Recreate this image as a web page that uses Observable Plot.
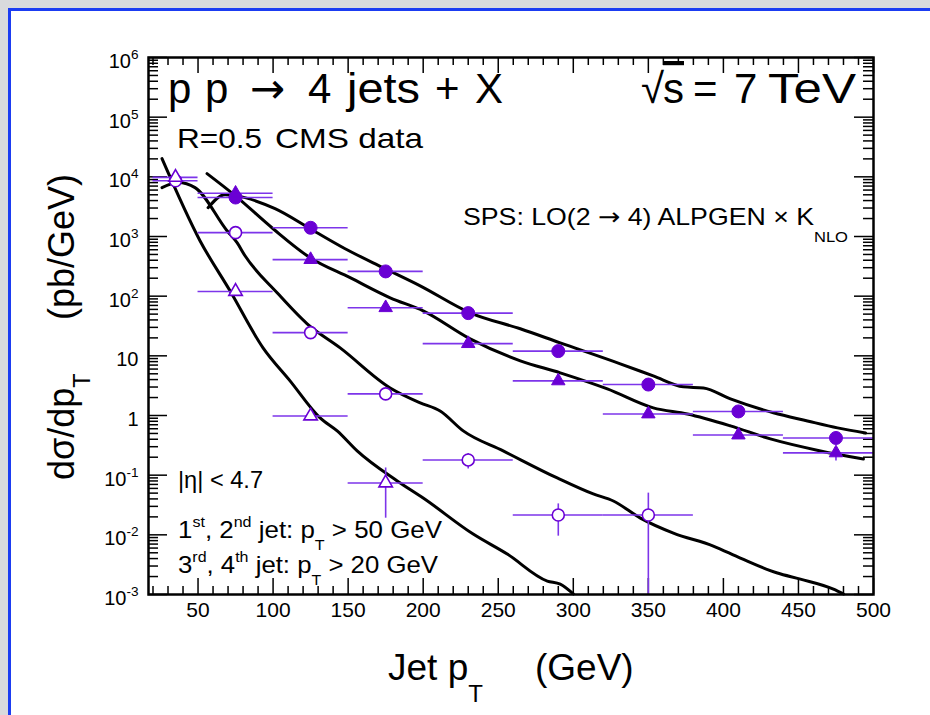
<!DOCTYPE html>
<html>
<head>
<meta charset="utf-8">
<script src="https://cdn.jsdelivr.net/npm/d3@7"></script>
<script src="https://cdn.jsdelivr.net/npm/@observablehq/plot@0.6"></script>
<style>
html, body { margin: 0; padding: 0; background: #fff; }
#page { position: relative; width: 930px; height: 715px; background: #d9dadd; overflow: hidden; }
#panel { position: absolute; left: 8px; top: 8px; right: 0; bottom: 0; background: #fff;
         border-left: 3px solid #1b3cf2; border-top: 3px solid #1b3cf2; }
#chart { position: absolute; left: 0; top: 0; }
</style>
</head>
<body>
<div id="page"><div id="panel"></div><div id="chart"></div></div>
<script>
const FONT = "'Liberation Sans', Arial, Helvetica, sans-serif";
const ARROW_FONT = "'DejaVu Sans', sans-serif";

// ---- axes ----
const xDomain = [17, 500];
const yDomain = [1e-3, 1e6];
const xMajorTicks = [50, 100, 150, 200, 250, 300, 350, 400, 450, 500];
const yMajorTicks = [1e-3, 1e-2, 1e-1, 1, 10, 1e2, 1e3, 1e4, 1e5, 1e6];
const yTickLabels = ["10^{-3}", "10^{-2}", "10^{-1}", "1", "10", "10^{2}", "10^{3}", "10^{4}", "10^{5}", "10^{6}"];

// ---- measured bins (GeV) ----
const binEdges = [20, 50, 100, 150, 200, 260, 320, 380, 440, 500];

// ---- CMS data (pb/GeV) ----
const jet1PT  = [75, 125, 175, 230, 290, 350, 410, 475];
const jet1Val = [4500, 1400, 260, 52, 12, 3.3, 1.17, 0.42];
const jet2PT  = [75, 125, 175, 230, 290, 350, 410, 475];
const jet2Val = [5300, 410, 64, 16, 3.8, 1.06, 0.47, 0.236];
const jet3PT  = [35, 75, 125, 175, 230, 290, 350];
const jet3Val = [8600, 1160, 24.5, 2.3, 0.18, 0.0215, 0.0215];
const jet4PT  = [35, 75, 125, 175];
const jet4Val = [9800, 120, 0.98, 0.074];

// visible vertical error bars
const errSeries = ["jet2", "jet3", "jet3", "jet3", "jet4"];
const errPT     = [475, 230, 290, 350, 175];
const errLo     = [0.173, 0.127, 0.0095, 0.0001, 0.019];
const errHi     = [0.286, 0.23, 0.033, 0.050, 0.132];

// ---- SPS theory curves: LO(2->4) ALPGEN x K_NLO ----
const jet1CurvePT  = [56.7, 68, 74.7, 101.3, 124.7, 148, 173.3, 198, 231.3, 264.7, 291.3, 331.3, 353.3, 373.3, 386.7, 404.7, 433.3, 456, 476, 494.7];
const jet1CurveVal = [3040, 5020, 4840, 2920, 1350, 624, 300, 149, 52.6, 28.4, 16.5, 7.35, 4.61, 3.02, 2.90, 1.90, 1.11, 0.81, 0.62, 0.51];
const jet2CurvePT  = [56, 74.7, 100, 124.7, 151.3, 178, 200, 231.3, 264.7, 291.3, 322.7, 353.3, 376, 404.7, 431.3, 464.7, 493.3];
const jet2CurveVal = [11300, 4840, 1350, 441, 204, 94, 56.9, 19.3, 8.24, 5.19, 2.79, 1.34, 1.06, 0.67, 0.405, 0.255, 0.187];
const jet3CurvePT  = [26, 36.7, 48, 69.3, 76, 81.3, 102.7, 122.7, 144.7, 178, 198, 211.3, 226.7, 253.3, 289.3, 313.3, 326.7, 344.7, 366.7, 393.3, 411.3, 436, 451.3, 473.3, 480];
const jet3CurveVal = [6590, 8000, 6590, 1250, 787, 476, 114, 34.4, 13.6, 2.90, 1.63, 1.19, 0.552, 0.255, 0.0897, 0.0484, 0.0369, 0.0191, 0.0107, 0.00649, 0.00408, 0.00229, 0.00181, 0.00123, 0.00102];
const jet4CurvePT  = [26, 51.3, 71.3, 93.3, 111.3, 131.3, 142.7, 156, 182.7, 200, 233.3, 256, 282.7, 291.3, 300];
const jet4CurveVal = [20200, 851, 123, 13.6, 3.81, 0.912, 0.552, 0.255, 0.080, 0.0414, 0.0103, 0.00476, 0.00168, 0.00149, 0.00102];

// ---- tables ----
function binOf(pt) {
  for (let i = 0; i < binEdges.length - 1; i++) if (pt > binEdges[i] && pt < binEdges[i + 1]) return [binEdges[i], binEdges[i + 1]];
  return [pt, pt];
}
function points(name, pts, vals) {
  return pts.map((pt, i) => { const [lo, hi] = binOf(pt); return {series: name, pt, v: vals[i], lo, hi}; });
}
function curve(name, pts, vals) { return pts.map((pt, i) => ({series: name, pt, v: vals[i]})); }

const p1 = points("jet1", jet1PT, jet1Val);
const p2 = points("jet2", jet2PT, jet2Val);
const p3 = points("jet3", jet3PT, jet3Val);
const p4 = points("jet4", jet4PT, jet4Val);
const allPoints = [...p3, ...p4, ...p1, ...p2];
const errs = errPT.map((pt, i) => ({series: errSeries[i], pt, lo: Math.max(errLo[i], yDomain[0]), hi: errHi[i]}));
const curves = [
  ...curve("jet1", jet1CurvePT, jet1CurveVal),
  ...curve("jet2", jet2CurvePT, jet2CurveVal),
  ...curve("jet3", jet3CurvePT, jet3CurveVal),
  ...curve("jet4", jet4CurvePT, jet4CurveVal)
];

const xMinorTicks = d3.range(20, 500, 10).filter(d => d % 50 !== 0);
const yMinorTicks = [];
for (let k = -3; k < 6; k++) for (let m = 2; m <= 9; m++) yMinorTicks.push(m * Math.pow(10, k));

// ---- layout ----
const W = 930, H = 715;
const mL = 148, mR = 57, mT = 57, mB = 121;
const fw = W - mL - mR, fh = H - mT - mB;
const violet = "#6a00d4", barColor = "#7d35ea";

const plot = Plot.plot({
  width: W, height: H,
  marginLeft: mL, marginRight: mR, marginTop: mT, marginBottom: mB,
  style: {background: "none", fontFamily: FONT, color: "black", overflow: "visible"},
  x: {domain: xDomain, axis: null},
  y: {type: "log", domain: yDomain, axis: null},
  marks: [
    // ROOT-style inward ticks on all four sides
    Plot.tickX(xMajorTicks, {x: d => d, insetTop: fh - 16, stroke: "black", strokeWidth: 1.5}),
    Plot.tickX(xMinorTicks, {x: d => d, insetTop: fh - 8, stroke: "black", strokeWidth: 1.5}),
    Plot.tickX(xMajorTicks, {x: d => d, insetBottom: fh - 16, stroke: "black", strokeWidth: 1.5}),
    Plot.tickX(xMinorTicks, {x: d => d, insetBottom: fh - 8, stroke: "black", strokeWidth: 1.5}),
    Plot.tickY(yMajorTicks, {y: d => d, insetRight: fw - 19, stroke: "black", strokeWidth: 1.5}),
    Plot.tickY(yMinorTicks, {y: d => d, insetRight: fw - 10, stroke: "black", strokeWidth: 1.5}),
    Plot.tickY(yMajorTicks, {y: d => d, insetLeft: fw - 19, stroke: "black", strokeWidth: 1.5}),
    Plot.tickY(yMinorTicks, {y: d => d, insetLeft: fw - 10, stroke: "black", strokeWidth: 1.5}),
    // tick labels
    Plot.text(xMajorTicks, {x: d => d, frameAnchor: "bottom", lineAnchor: "top", dy: 8, fontSize: 21, text: d => String(d)}),
    Plot.text(yMajorTicks, {y: d => d, frameAnchor: "left", textAnchor: "end", lineAnchor: "middle", dx: -10, dy: 4, fontSize: 20, text: yTickLabels}),
    // theory curves
    Plot.line(curves, {x: "pt", y: "v", z: "series", stroke: "black", strokeWidth: 3, curve: "monotone-x"}),
    // error bars
    Plot.ruleY(allPoints, {y: "v", x1: "lo", x2: "hi", stroke: barColor, strokeWidth: 1.6}),
    Plot.ruleX(errs, {x: "pt", y1: "lo", y2: "hi", stroke: barColor, strokeWidth: 1.6}),
    // markers
    Plot.dot(p1, {x: "pt", y: "v", symbol: "circle", r: 6.5, fill: violet, stroke: violet, strokeWidth: 1}),
    Plot.dot(p2, {x: "pt", y: "v", symbol: "triangle", r: 5, fill: violet, stroke: violet, strokeWidth: 1}),
    Plot.dot(p3, {x: "pt", y: "v", symbol: "circle", r: 6, fill: "white", stroke: violet, strokeWidth: 1.6}),
    Plot.dot(p4, {x: "pt", y: "v", symbol: "triangle", r: 5, fill: "white", stroke: violet, strokeWidth: 1.6}),
    Plot.frame({stroke: "black", strokeWidth: 2.5})
  ]
});
document.getElementById("chart").appendChild(plot);

// ---- rich text: ^{sup} and _{sub} ----
const NS = "http://www.w3.org/2000/svg";
function rich(el, s, o = {}) {
  const fs = parseFloat(getComputedStyle(el).fontSize);
  const scale = o.scale || 0.65, supOff = o.sup || 0.45, subOff = o.sub || 0.45;
  while (el.firstChild) el.removeChild(el.firstChild);
  const re = /([\^_])\{([^}]*)\}|(\u2192)/g;
  let last = 0, m, cur = 0;
  const add = (txt, off, size, family) => {
    const t = document.createElementNS(NS, "tspan");
    if (off !== cur) { t.setAttribute("dy", off - cur); cur = off; }
    if (size) t.setAttribute("font-size", size);
    if (family) t.setAttribute("font-family", family);
    t.textContent = txt;
    el.appendChild(t);
  };
  while ((m = re.exec(s))) {
    if (m.index > last) add(s.slice(last, m.index), 0);
    if (m[3]) add(m[3], 0, null, ARROW_FONT);
    else add(m[2], m[1] === "^" ? -supOff * fs : subOff * fs, scale * fs);
    last = re.lastIndex;
  }
  if (last < s.length) add(s.slice(last), 0);
}
d3.select(plot).selectAll("text").each(function () {
  const s = this.textContent;
  if (/[\^_]\{/.test(s)) rich(this, s, {scale: 0.68, sup: 0.45});
});

// ---- annotations ----
const ann = d3.select(plot).append("g").attr("font-family", FONT).attr("fill", "black");
function label(x, y, s, size, o = {}) {
  const t = ann.append("text").attr("font-size", size).attr("text-anchor", o.anchor || "start");
  if (o.rotate) t.attr("transform", `translate(${x},${y}) rotate(-90)`);
  else t.attr("x", x).attr("y", y);
  rich(t.node(), s, o);
  if (o.len) t.attr("textLength", o.len).attr("lengthAdjust", "spacingAndGlyphs");
  return t;
}
// title: pp -> 4 jets + X
[[168, "p"], [205, "p"], [250, "\u2192"], [308, "4"], [347, "jets", 73], [435, "+"], [475, "X"]]
  .forEach(([x, s, len]) => label(x, 103, s, 42, {len}));
// sqrt(s) = 7 TeV
label(641, 103, "\u221A", 42);
label(663, 103, "s", 42).style("text-decoration", "overline");
label(693, 103, "=", 42);
label(734, 103, "7", 42);
label(768, 103, "TeV", 42, {len: 88});
label(177, 148, "R=0.5", 28, {len: 85});
label(275, 148, "CMS data", 28, {len: 148});
label(463, 225, "SPS: LO(2 \u2192 4) ALPGEN \u00D7 K_{NLO}", 24, {sub: 0.7, scale: 0.62, len: 385});
label(178, 488, "|\u03B7| < 4.7", 24, {len: 85});
label(178, 538, "1^{st}, 2^{nd} jet: p_{T} > 50 GeV", 24, {sub: 0.5, scale: 0.62, sup: 0.45, len: 264});
label(178, 573, "3^{rd}, 4^{th} jet: p_{T} > 20 GeV", 24, {sub: 0.5, scale: 0.62, sup: 0.45, len: 260});
// axis titles
label(388, 680, "Jet p_{T}", 37, {sub: 0.6, scale: 0.65});
label(535, 680, "(GeV)", 37);
label(74, 480, "d\u03C3/dp_{T}", 36, {rotate: true, sub: 0.45, scale: 0.65});
label(74, 320, "(pb/GeV)", 36, {rotate: true});
</script>
</body>
</html>
